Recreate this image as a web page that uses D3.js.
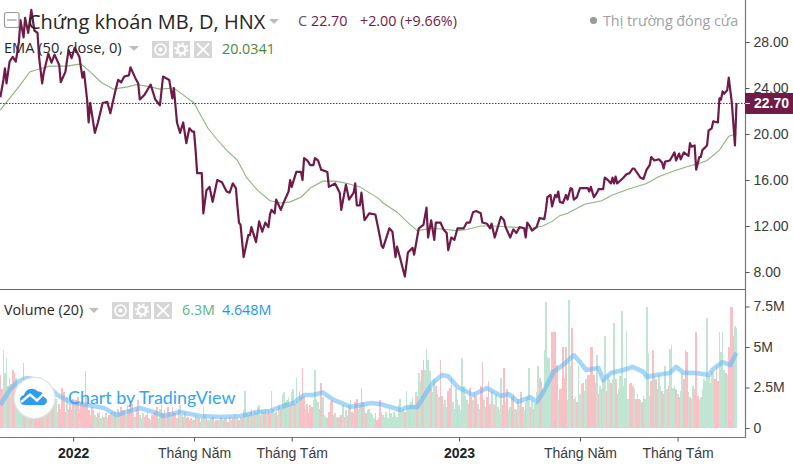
<!DOCTYPE html>
<html lang="vi"><head><meta charset="utf-8">
<script src="https://d3js.org/d3.v7.min.js"></script>
<style>html,body{margin:0;padding:0;background:#fff;overflow:hidden}svg{display:block}</style>
</head><body><svg id="c" width="793" height="467"></svg>
<script>
// ---- data ----
const closeSessions=[0,2,3,4,6,8,10,12,13,15,16,18,20,22,24,25,27,28,31,33,35,38,39,42,44,46,48,51,53,54,56,57,58,61,63,66,69,71,74,76,78,80,83,84,87,89,90,93,97,100,103,105,109,111,112,114,116,118,120,122,124,125,126,127,130,131,133,135,137,140,143,146,148,150,152,153,154,155,157,160,161,162,165,167,169,171,173,174,
175,177,178,181,183,186,187,188,191,194,195,196,198,200,202,203,205,207,211,212,216,219,220,223,225,228,229,230,232,233,235,238,242,244,246,247,251,253,255,256,258,261,263,266,267,270,273,275,276,278,280,281,284,286,288,289,291,293,295,299,301,303,305,307,310,311,314,316,317,319,323,325,326,329,331,333,335,338,339,340,
342,343,346,348,351,352,353,355,356,358,359,360,361,363,365,366,368,369,370,372,374,379,380,381,383,385,386,389,390,392,394,395,396,397,398,402,404,406,408,409,413,415,417,419,420,422,425,427,428,429,432,435,436,438,439,441,444,445,446,448,449,451,452,453,456,457,459,460,463,464,465,466,467,469,470,472,474,475];
const closeValues=[23.2,24.7,25.7,24.4,26.3,26.7,26.3,28.0,29.9,28.4,30.1,28.8,30.8,29.0,28.8,26.7,24.4,25.3,27.0,26.2,26.9,26.0,24.5,25.4,27.3,26.6,27.5,26.7,24.9,25.4,23.0,21.0,22.7,20.1,21.0,22.7,22.8,21.8,23.6,24.7,24.5,25.0,25.1,25.8,24.9,24.4,23.0,23.4,24.3,23.0,22.5,25.0,24.7,23.1,24.0,21.0,20.1,21.0,19.2,20.5,20.2,20.2,18.6,16.6,16.6,13.1,15.1,15.4,14.1,16.0,15.8,15.0,14.9,15.7,15.3,13.7,12.3,12.1,9.3,11.2,11.2,11.9,10.6,12.4,11.5,12.3,11.9,13.0,
13.4,13.1,14.3,13.4,14.1,15.0,16.0,15.4,16.7,16.7,16.0,17.9,17.7,17.3,17.3,17.9,17.7,16.9,16.7,15.4,15.7,14.9,13.4,15.6,14.3,14.9,15.7,13.8,13.8,14.9,12.5,13.1,13.0,11.7,10.3,10.1,11.8,11.5,9.3,10.2,9.2,7.6,9.7,10.1,9.5,11.8,12.1,13.6,11.0,12.5,10.8,12.3,12.3,11.7,11.4,9.9,11.0,10.8,11.8,11.8,12.3,12.3,13.2,13.3,13.1,12.3,12.2,11.8,12.2,11.0,12.8,12.5,11.9,11.0,11.7,11.4,11.9,11.8,11.0,12.3,
11.9,11.6,11.9,12.7,12.6,13.4,14.5,14.7,13.7,14.7,14.5,15.0,14.1,14.0,14.7,14.3,15.3,15.2,14.3,14.5,15.3,15.3,15.0,15.4,14.5,14.9,15.2,15.2,16.2,16.0,15.7,16.2,15.7,16.3,15.7,16.2,16.5,16.6,17.0,17.0,16.2,16.1,16.9,17.3,18.0,17.7,17.8,17.5,17.0,17.6,17.7,18.4,17.7,18.3,17.8,18.4,18.1,19.2,18.9,19.0,16.9,18.0,18.0,18.6,19.0,20.3,20.5,21.1,21.0,23.1,23.0,23.7,23.5,23.8,24.9,22.7,19.0,22.7];
const emaSessions=[0,6,13,19,26,32,43,52,58,65,73,82,88,97,103,112,118,125,129,134,140,146,153,159,166,174,181,187,194,200,208,216,224,232,244,247,256,263,269,279,295,301,310,318,331,343,350,356,361,366,377,388,395,405,417,425,435,444,450,456,464,470,475];
const emaValues=[22.1,23.1,24.3,25.4,25.7,25.9,25.9,26.1,25.4,24.5,23.9,24.1,24.3,24.1,23.9,24.0,23.4,22.7,21.7,20.5,19.5,18.6,17.7,16.2,15.1,14.2,14.0,14.1,14.5,15.3,15.9,15.9,15.7,15.4,14.4,14.0,13.2,12.3,11.6,11.8,11.6,11.7,12.0,12.0,11.9,11.8,12.0,12.4,12.9,13.1,13.9,14.2,14.7,15.2,15.7,16.3,16.8,17.2,17.4,17.7,18.6,19.8,20.03];
// volume in millions per session: positive = rising session, negative = falling session
const signedVolumes=[
-3.3,-2.4,4.8,3.4,4.3,-2.6,3.1,2.7,-3.6,-3.4,3.1,2.6,2.4,1.9,2.2,-4.0,-3.0,2.1,1.8,-1.2,
-1.4,1.1,-1.9,-1.6,1.0,-2.6,-3.1,-2.9,-1.4,1.2,-1.1,-0.9,1.4,-1.3,-1.7,2.2,1.8,1.0,-1.5,-1.2,
-2.5,-2.2,-1.0,1.9,-1.2,-1.5,-1.1,-1.8,1.4,-1.7,-1.9,1.2,-1.6,-2.0,-1.5,-3.5,-1.9,-1.1,-0.8,-1.3,
-1.1,0.8,0.7,-0.9,1.0,0.6,0.8,-0.7,0.9,0.6,-0.8,-0.9,1.0,0.8,-1.0,0.7,1.2,0.9,-1.3,-1.1,
-1.1,0.8,-1.4,-1.2,-1.6,-1.5,0.9,0.7,-1.2,-1.7,0.8,0.6,0.9,-0.7,-0.8,-1.0,-0.6,0.5,-0.8,-0.9,
-1.0,-1.3,0.6,1.2,-1.4,-0.9,-1.1,0.7,-1.3,-1.0,0.8,-1.3,-0.9,0.9,0.6,-1.2,1.4,0.8,-0.7,1.0,
-0.6,-0.7,-0.5,-0.6,0.5,-0.5,-0.8,0.7,-0.6,-0.4,0.6,1.3,0.8,-0.6,0.5,-0.5,0.6,-0.7,0.4,-0.5,
-0.5,0.5,-0.7,0.6,-0.5,-0.6,0.6,-0.4,-0.7,0.5,-0.6,-0.8,0.6,-0.7,-0.5,0.7,-0.6,-1.1,2.3,0.9,
-0.8,1.0,-1.2,0.8,-1.1,0.9,-1.3,1.4,-0.8,1.1,-1.0,-1.2,0.9,-1.1,-0.9,2.3,1.2,0.9,-1.0,0.8,
1.4,-1.2,2.1,2.2,-1.6,1.7,1.9,-1.4,2.2,2.4,-1.5,3.1,1.6,-2.3,-1.9,-3.7,-2.0,1.2,-1.5,-0.9,
-1.4,-1.3,1.7,3.6,1.8,1.6,-1.2,-2.8,1.9,0.8,0.7,-0.6,-1.0,-1.6,-1.7,-0.8,0.9,0.7,-0.6,-0.7,
-0.8,1.4,-0.7,1.1,-0.8,-1.4,1.7,-1.0,0.9,-1.6,-1.8,1.2,1.4,-2.5,-1.6,1.4,-0.9,1.1,1.2,0.9,
0.8,0.6,-0.9,-0.5,-0.6,-1.7,-1.0,0.8,0.7,1.0,0.6,1.2,0.9,0.7,1.0,0.8,0.7,1.4,1.8,1.0,
1.2,-1.0,2.3,1.3,-1.4,1.6,1.9,1.4,2.2,-2.0,3.4,2.9,-3.6,-4.2,3.6,4.9,4.2,3.5,-2.4,2.2,
3.0,-2.6,2.1,1.9,-4.2,-2.0,1.5,1.7,1.3,-2.3,-2.5,3.0,1.6,1.2,2.4,-1.7,1.4,1.1,4.3,2.6,
2.0,1.7,-1.5,-2.5,-1.9,1.7,-2.2,-2.0,1.5,1.2,-2.6,-4.1,1.7,-1.3,-1.9,-2.9,-1.5,2.3,1.5,-1.4,
2.1,1.3,1.1,3.1,-1.4,-3.7,1.6,-2.4,1.1,1.3,-1.9,-2.1,1.2,-1.1,1.8,1.4,-2.2,-1.3,1.1,-1.6,
1.9,3.7,-1.3,1.7,-1.2,1.5,2.2,3.8,-3.1,-2.9,2.4,4.8,7.8,4.4,4.3,3.6,-5.9,-5.9,-5.9,-3.9,
1.7,-2.4,-2.5,-5.0,-3.1,-5.0,1.7,7.9,3.8,-6.2,1.8,1.9,-1.6,3.8,2.1,2.7,-2.8,2.3,3.0,-3.3,
-3.3,-5.0,-5.0,-3.3,-2.8,4.5,-2.1,2.6,-2.4,3.0,5.7,-2.3,3.3,3.0,-2.8,3.0,6.5,-3.0,-2.1,2.4,
3.2,7.2,2.6,3.1,6.0,1.8,-2.7,-2.8,-2.6,2.5,-1.8,-2.1,-1.8,1.7,-1.6,-2.0,1.8,7.5,4.6,2.0,
-2.9,-4.8,3.2,-3.0,-2.4,3.3,2.6,-2.3,-2.1,3.8,2.4,-2.6,4.9,5.1,2.5,2.6,-2.4,2.1,-1.9,2.3,
3.4,-3.0,-4.8,-4.7,2.2,-1.9,1.8,2.6,-2.4,-5.9,-2.0,1.8,1.9,2.4,3.0,2.9,6.8,3.2,2.8,3.5,
3.4,-3.0,-3.9,-2.9,5.9,4.7,5.9,3.6,-3.4,3.3,-5.0,-7.5,-7.5,-5.7,6.3,6.2];
const volMaSessions=[0,6,11,17,26,37,45,56,67,75,90,99,105,116,129,142,155,166,174,181,189,196,202,208,215,226,239,245,254,258,263,269,275,279,285,289,295,305,314,323,328,334,337,342,346,350,357,363,370,374,378,386,389,394,402,408,415,417,423,432,436,441,449,457,460,466,471,475];
const volMaValues=[1.42,2.35,2.84,3.09,2.96,2.04,1.6,1.42,1.23,0.8,1.23,0.99,0.74,0.99,0.74,0.68,0.74,0.99,1.05,1.3,1.54,2.04,2.04,2.2,1.73,1.3,1.54,1.48,1.23,1.11,1.3,1.3,2.2,2.78,3.27,3.2,2.53,2.04,2.47,1.98,2.1,1.6,1.73,1.91,1.6,2.16,3.46,3.89,4.5,4.07,3.58,3.7,2.96,3.4,3.58,3.77,3.46,3.15,3.27,3.4,3.77,3.4,3.4,3.27,3.64,4.07,3.89,4.648];
const priceTicks=[8,12,16,20,24,28];
const volumeTicks=[0,2.5,5,7.5];
const volumeTickLabels=["0","2.5M","5M","7.5M"];
const timeTickSessions=[47,125,188,296,374,437];
const timeTickLabels=["2022","Tháng Năm","Tháng Tám","2023","Tháng Năm","Tháng Tám"];
const lastClose=22.70;

// ---- scales ----
const x=d3.scaleLinear().domain([0,475]).range([0.3,736.5]);
const yP=d3.scaleLinear().domain([8,28]).range([272,42]);
const yV=d3.scaleLinear().domain([0,7.5]).range([428,306.5]);
const maroon="#6f1a48",tickText="#3a3a3a";
const legendFont="'Open Sans','Noto Sans',sans-serif";
const axisFont="'Liberation Sans',Arial,sans-serif";
const svg=d3.select("#c");

// ---- volume pane ----
svg.append("g").attr("shape-rendering","crispEdges").selectAll("rect").data(signedVolumes).join("rect")
  .attr("x",(d,i)=>x(i)-0.8).attr("width",1.7)
  .attr("y",d=>yV(Math.abs(d))).attr("height",d=>yV(0)-yV(Math.abs(d)))
  .attr("fill",d=>d>=0?"#c1e5d3":"#f9c1c5");
const maLine=d3.line().x(d=>x(d[0])).y(d=>yV(d[1]));
svg.append("path").attr("d",maLine(d3.zip(volMaSessions,volMaValues)))
  .attr("fill","none").attr("stroke","#5cb6f8").attr("stroke-opacity",.55).attr("stroke-width",4.6).attr("stroke-linejoin","round");

// ---- price pane ----
const lineP=d3.line().x(d=>x(d[0])).y(d=>yP(d[1]));
svg.append("path").attr("d",lineP(d3.zip(emaSessions,emaValues)))
  .attr("fill","none").attr("stroke","#8db57c").attr("stroke-width",1.1);
svg.append("line").attr("x1",0).attr("x2",745).attr("y1",yP(lastClose)+.5).attr("y2",yP(lastClose)+.5)
  .attr("stroke",maroon).attr("stroke-width",1).attr("stroke-dasharray","1.5 1.5");
svg.append("path").attr("d",lineP(d3.zip(closeSessions,closeValues)))
  .attr("fill","none").attr("stroke",maroon).attr("stroke-width",2.2).attr("stroke-linejoin","round");

// ---- frame ----
svg.append("line").attr("x1",0).attr("x2",745).attr("y1",289.5).attr("y2",289.5).attr("stroke","#666").attr("stroke-width",1.2);
svg.append("line").attr("x1",0).attr("x2",745.5).attr("y1",437.5).attr("y2",437.5).attr("stroke","#777").attr("stroke-width",1.2);
svg.append("line").attr("x1",745.5).attr("x2",745.5).attr("y1",0).attr("y2",438).attr("stroke","#777").attr("stroke-width",1.2);

// ---- axes ----
function styleAxis(g){
  g.select(".domain").remove();
  g.selectAll("line").attr("stroke","#555");
  g.selectAll("text").attr("fill",tickText).attr("font-family",axisFont).attr("font-size",14);
}
svg.append("g").attr("transform","translate(745.5,0)")
  .call(d3.axisRight(yP).tickValues(priceTicks).tickFormat(d3.format(".2f")).tickSize(4).tickPadding(4)).call(styleAxis);
svg.append("g").attr("transform","translate(745.5,0)")
  .call(d3.axisRight(yV).tickValues(volumeTicks).tickFormat((d,i)=>volumeTickLabels[i]).tickSize(4).tickPadding(4)).call(styleAxis);
const xAxis=svg.append("g").attr("transform","translate(0,437.5)")
  .call(d3.axisBottom(x).tickValues(timeTickSessions).tickFormat((d,i)=>timeTickLabels[i]).tickSize(4).tickPadding(7)).call(styleAxis);
xAxis.selectAll("text").attr("font-weight",(d,i)=>/^\d+$/.test(timeTickLabels[i])?"bold":"normal")
  .attr("fill",(d,i)=>/^\d+$/.test(timeTickLabels[i])?"#222":tickText);

// ---- last price tag ----
svg.append("rect").attr("x",745).attr("y",yP(lastClose)-10).attr("width",48).attr("height",21).attr("fill",maroon);
svg.append("line").attr("x1",745.5).attr("x2",750).attr("y1",yP(lastClose)+.5).attr("y2",yP(lastClose)+.5).attr("stroke","#fff");
svg.append("text").attr("x",754).attr("y",yP(lastClose)+5.2).text(d3.format(".2f")(lastClose))
  .attr("fill","#fff").attr("font-family",axisFont).attr("font-weight","bold").attr("font-size",14);

// ---- legends ----
function label(t,xp,yp,size,fill,family){return svg.append("text").attr("x",xp).attr("y",yp).text(t)
  .attr("font-family",family||legendFont).attr("font-size",size).attr("fill",fill);}
function tri(xp,yp){svg.append("path").attr("d",`M${xp} ${yp}h10l-5 5z`).attr("fill","#bdbdbd");}
function iconBox(xp,yp,w,kind){
  svg.append("rect").attr("x",xp).attr("y",yp).attr("width",w).attr("height",17).attr("fill","#d6d6d6");
  const cx=xp+w/2,cy=yp+8.5,g=svg.append("g");
  if(kind==="eye"){g.append("circle").attr("cx",cx).attr("cy",cy).attr("r",5.5).attr("fill","none").attr("stroke","#fff").attr("stroke-width",1.6);
    g.append("circle").attr("cx",cx).attr("cy",cy).attr("r",2).attr("fill","#fff");}
  if(kind==="gear"){g.append("circle").attr("cx",cx).attr("cy",cy).attr("r",4).attr("fill","none").attr("stroke","#fff").attr("stroke-width",2.6);
    g.append("circle").attr("cx",cx).attr("cy",cy).attr("r",6.2).attr("fill","none").attr("stroke","#fff").attr("stroke-width",1.8).attr("stroke-dasharray","2.2 2.6");}
  if(kind==="x"){g.append("path").attr("d",`M${cx-6} ${cy-6}L${cx+6} ${cy+6}M${cx+6} ${cy-6}L${cx-6} ${cy+6}`).attr("stroke","#fff").attr("stroke-width",2);}
}
svg.append("rect").attr("x",4.5).attr("y",12.5).attr("width",14.5).attr("height",15).attr("rx",2).attr("fill","none").attr("stroke","#9a9a9a").attr("stroke-width",1.2);
svg.append("line").attr("x1",7).attr("x2",16.5).attr("y1",20).attr("y2",20).attr("stroke","#9a9a9a").attr("stroke-width",1.2);
label("Chứng khoán MB, D, HNX",28,29,20,"#262626");
tri(269,19);
label("C",298,26,14.3,"#555");
label("22.70",311,26,14.3,maroon);
label("+2.00 (+9.66%)",360,26,14.3,maroon);
svg.append("circle").attr("cx",593.5).attr("cy",20.5).attr("r",3.6).attr("fill","#9a9a9a");
label("Thị trường đóng cửa",603,26,14.3,"#a0a0a0");
label("EMA (50, close, 0)",4,53,14.6,"#262626");
tri(129,46);
iconBox(152,41,17,"eye");iconBox(173,41,17,"gear");iconBox(194,41,18,"x");
label("20.0341",222,54,14.3,"#4c8a3a");
label("Volume (20)",4,315,14.3,"#262626");
tri(89,308);
iconBox(112,302,17,"eye");iconBox(133,302,18,"gear");iconBox(154,302,18,"x");
label("6.3M",182,315,14.3,"#53b987");
label("4.648M",222,315,14.3,"#2196f3");

// ---- watermark ----
svg.append("circle").attr("cx",34.5).attr("cy",398).attr("r",20.5).attr("fill","#fff").attr("stroke","#dde3e8").attr("stroke-width",1.2);
svg.append("path").attr("d","M25 405a5 5 0 0 1-1-9.900a8 8 0 0 1 14-3.500a6 6 0 0 1 6 5a4.500 4.500 0 0 1 0 8.400z").attr("fill","#2c9df0");
svg.append("path").attr("d","M21 402l9-7.500 7 6 6-6 5 4").attr("fill","none").attr("stroke","#fff").attr("stroke-width",2.4);
label("Chart by TradingView",68,404,17.9,"#35a4f4","Lato,'Open Sans',sans-serif");
</script></body></html>
